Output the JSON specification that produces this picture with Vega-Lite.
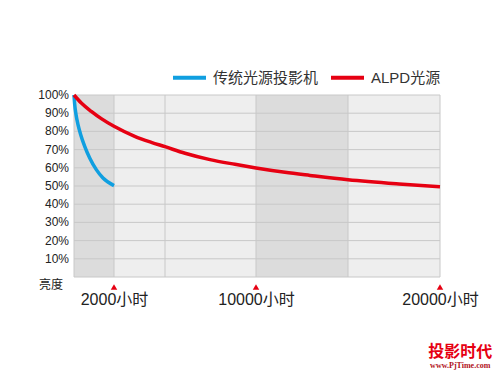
{
  "$schema": "https://vega.github.io/schema/vega-lite/v6.json",
  "autosize": {"type": "none"},
  "padding": {"left": 74, "top": 95, "right": 60, "bottom": 98},
  "width": 366,
  "height": 182,
  "background": "#ffffff",
  "config": {
    "view": {"stroke": null},
    "font": "Liberation Sans, Noto Sans CJK SC",
    "axis": {"labelFont": "Liberation Sans, Noto Sans CJK SC", "labelFlush": false, "ticks": false, "domain": false, "grid": false, "title": null}
  },
  "datasets": {
    "bands": [
      {"h": 0, "h2": 2000, "tone": "dark"},
      {"h": 2000, "h2": 10000, "tone": "light"},
      {"h": 10000, "h2": 15000, "tone": "dark"},
      {"h": 15000, "h2": 20000, "tone": "light"}
    ],
    "hgrid": [
      {"v": 0, "label": "亮度", "shift": "corner"},
      {"v": 10, "label": "10%", "shift": "tick"},
      {"v": 20, "label": "20%", "shift": "tick"},
      {"v": 30, "label": "30%", "shift": "tick"},
      {"v": 40, "label": "40%", "shift": "tick"},
      {"v": 50, "label": "50%", "shift": "tick"},
      {"v": 60, "label": "60%", "shift": "tick"},
      {"v": 70, "label": "70%", "shift": "tick"},
      {"v": 80, "label": "80%", "shift": "tick"},
      {"v": 90, "label": "90%", "shift": "tick"},
      {"v": 100, "label": "100%", "shift": "tick"}
    ],
    "vgrid": [{"h": 0}, {"h": 2000}, {"h": 5000}, {"h": 10000}, {"h": 15000}, {"h": 20000}],
    "curves": [
      {"series": "传统光源投影机", "h": 0, "v": 100},
      {"series": "传统光源投影机", "h": 35, "v": 94.8},
      {"series": "传统光源投影机", "h": 100, "v": 89.3},
      {"series": "传统光源投影机", "h": 200, "v": 83.7},
      {"series": "传统光源投影机", "h": 335, "v": 78.2},
      {"series": "传统光源投影机", "h": 535, "v": 71.8},
      {"series": "传统光源投影机", "h": 785, "v": 65.4},
      {"series": "传统光源投影机", "h": 1115, "v": 59.0},
      {"series": "传统光源投影机", "h": 1450, "v": 54.4},
      {"series": "传统光源投影机", "h": 2000, "v": 50.2},
      {"series": "ALPD光源", "h": 0, "v": 100},
      {"series": "ALPD光源", "h": 365, "v": 95.6},
      {"series": "ALPD光源", "h": 865, "v": 91.0},
      {"series": "ALPD光源", "h": 1365, "v": 87.0},
      {"series": "ALPD光源", "h": 2000, "v": 82.8},
      {"series": "ALPD光源", "h": 3218, "v": 77.3},
      {"series": "ALPD光源", "h": 4194, "v": 74.0},
      {"series": "ALPD光源", "h": 5000, "v": 71.6},
      {"series": "ALPD光源", "h": 6099, "v": 68.0},
      {"series": "ALPD光源", "h": 7473, "v": 64.5},
      {"series": "ALPD光源", "h": 8846, "v": 61.9},
      {"series": "ALPD光源", "h": 10000, "v": 59.9},
      {"series": "ALPD光源", "h": 11576, "v": 57.5},
      {"series": "ALPD光源", "h": 12935, "v": 55.8},
      {"series": "ALPD光源", "h": 15000, "v": 53.4},
      {"series": "ALPD光源", "h": 17772, "v": 51.1},
      {"series": "ALPD光源", "h": 20000, "v": 49.6}
    ],
    "milestones": [{"h": 2000}, {"h": 10000}, {"h": 20000}],
    "watermark": [{"label": "投影时代", "site": "www.PjTime.com"}]
  },
  "layer": [
    {
      "data": {"name": "bands"},
      "mark": {"type": "rect"},
      "encoding": {
        "x": {"field": "h", "type": "quantitative", "scale": {"domain": [0, 2000, 5000, 10000, 15000, 20000], "range": [0, 40, 91, 182, 274, 366], "nice": false, "zero": false},
          "axis": {"values": [2000, 10000, 20000], "labelExpr": "datum.value + '小时'", "labelFontSize": 16, "labelColor": "#222222", "labelPadding": 14, "labelOverlap": false}},
        "x2": {"field": "h2"},
        "y": {"datum": 0, "type": "quantitative", "scale": {"domain": [0, 100], "nice": false, "zero": true}, "axis": null},
        "y2": {"datum": 100},
        "fill": {"field": "tone", "type": "nominal", "scale": {"domain": ["dark", "light"], "range": ["#dcdcdc", "#eeeeee"]}, "legend": null}
      }
    },
    {
      "data": {"name": "hgrid"},
      "mark": {"type": "rule", "color": "#c8c8c8", "strokeWidth": 1},
      "encoding": {
        "y": {"field": "v", "type": "quantitative", "axis": null}
      }
    },
    {
      "data": {"name": "hgrid"},
      "transform": [{"filter": "datum.shift == 'tick'"}],
      "mark": {"type": "text", "fontSize": 12, "color": "#222222", "align": "right", "baseline": "middle", "dx": -5},
      "encoding": {
        "x": {"datum": 0},
        "y": {"field": "v", "type": "quantitative", "axis": null},
        "text": {"field": "label"}
      }
    },
    {
      "data": {"name": "hgrid"},
      "transform": [{"filter": "datum.shift == 'corner'"}],
      "mark": {"type": "text", "font": "Noto Sans CJK SC", "fontSize": 12, "color": "#222222", "align": "right", "baseline": "middle", "dx": -11, "dy": 8},
      "encoding": {
        "x": {"datum": 0},
        "y": {"field": "v", "type": "quantitative", "axis": null},
        "text": {"field": "label"}
      }
    },
    {
      "data": {"name": "vgrid"},
      "mark": {"type": "rule", "color": "#c8c8c8", "strokeWidth": 1},
      "encoding": {
        "x": {"field": "h", "type": "quantitative"}
      }
    },
    {
      "data": {"name": "curves"},
      "mark": {"type": "line", "strokeWidth": 3.5, "interpolate": "monotone"},
      "encoding": {
        "x": {"field": "h", "type": "quantitative"},
        "y": {"field": "v", "type": "quantitative", "axis": null},
        "color": {"field": "series", "type": "nominal", "sort": null,
          "scale": {"domain": ["传统光源投影机", "ALPD光源"], "range": ["#109fe0", "#e60012"]},
          "legend": {"title": null, "orient": "none", "direction": "horizontal", "legendX": 97, "legendY": -36,
            "symbolType": "stroke", "symbolSize": 1089, "symbolStrokeWidth": 4, "labelFontSize": 15, "labelColor": "#333333",
            "labelFont": "Liberation Sans, Noto Sans CJK SC", "labelOffset": 5, "columnPadding": 4, "padding": 0, "labelLimit": 300}}
      }
    },
    {
      "data": {"name": "milestones"},
      "mark": {"type": "point", "shape": "triangle-up", "filled": true, "color": "#e60012", "size": 42, "opacity": 1, "yOffset": 10},
      "encoding": {
        "x": {"field": "h", "type": "quantitative"},
        "y": {"datum": 0, "axis": null}
      }
    },
    {
      "data": {"name": "watermark"},
      "mark": {"type": "text", "font": "Noto Sans CJK SC", "fontWeight": "bold", "fontSize": 16, "color": "#e60012", "align": "center", "baseline": "middle"},
      "encoding": {"x": {"datum": 21100}, "y": {"datum": -41, "axis": null}, "text": {"field": "label"}}
    },
    {
      "data": {"name": "watermark"},
      "mark": {"type": "text", "font": "Liberation Serif", "fontWeight": "bold", "fontSize": 8, "color": "#b01020", "align": "center", "baseline": "middle"},
      "encoding": {"x": {"datum": 21100}, "y": {"datum": -49, "axis": null}, "text": {"field": "site"}}
    }
  ]
}
